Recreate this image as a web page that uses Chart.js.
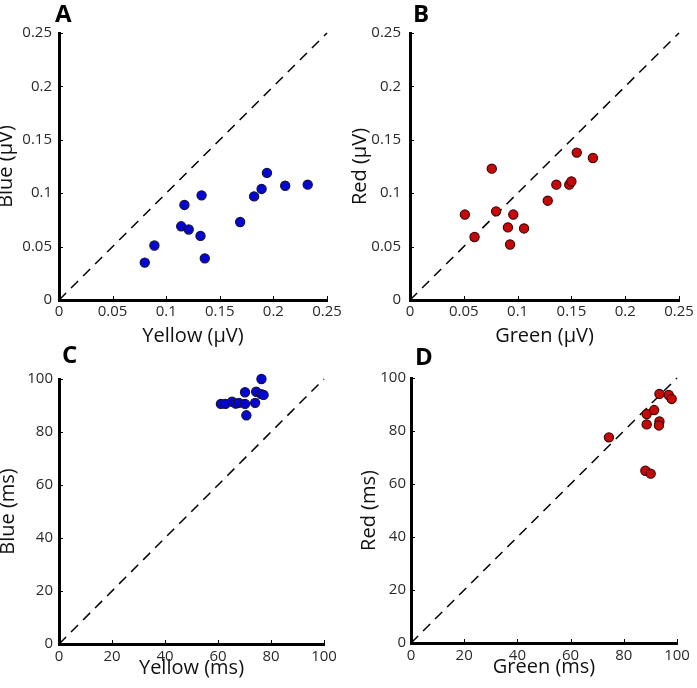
<!DOCTYPE html>
<html><head><meta charset="utf-8">
<script src="https://cdn.jsdelivr.net/npm/chart.js@4/dist/chart.umd.min.js"></script>
<style>
body{margin:0;background:#fff;}
#wrap{position:relative;width:697px;height:688px;overflow:hidden;}
canvas{position:absolute;left:0;top:0;}
</style>
</head><body>
<div id="wrap">
<canvas id="cA" width="697" height="688"></canvas>
<canvas id="cB" width="697" height="688"></canvas>
<canvas id="cC" width="697" height="688"></canvas>
<canvas id="cD" width="697" height="688"></canvas>
</div>
<script>
// ---- data ----
const ampTicks = [0, 0.05, 0.1, 0.15, 0.2, 0.25];
const latTicks = [0, 20, 40, 60, 80, 100];
const diagAmp = [0, 0.25];
const diagLat = [0, 100];

const yellowAmp = [0.080,0.089,0.117,0.114,0.121,0.133,0.132,0.136,0.169,0.182,0.189,0.194,0.211,0.232];
const blueAmp   = [0.035,0.051,0.089,0.069,0.066,0.098,0.060,0.039,0.073,0.097,0.104,0.119,0.107,0.108];

const greenAmp = [0.051,0.060,0.076,0.080,0.091,0.093,0.096,0.106,0.128,0.136,0.148,0.150,0.155,0.170];
const redAmp   = [0.080,0.059,0.123,0.083,0.068,0.052,0.080,0.067,0.093,0.108,0.108,0.111,0.138,0.133];

const yellowLat = [61.1,62.8,65.3,66.7,67.9,70.2,70.2,70.7,74.0,74.4,76.4,76.3,77.2];
const blueLat   = [90.6,90.6,91.4,90.7,91.0,90.6,95.0,86.3,91.0,95.2,100,94.3,94.0];

const greenLat = [74.4,88.6,88.6,88.1,90.1,91.4,93.4,93.4,93.2,96.9,98.0];
const redLat   = [77.6,86.4,82.5,65.0,63.9,87.9,94.0,83.6,82.1,93.6,92.1];

const FONT = '"Open Sans", "Noto Sans", sans-serif';
const BLUE = {fill:'#0505d6', edge:'#14143c'};
const RED  = {fill:'#c80808', edge:'#3c0808'};

const innerTicks = {
  id:'innerTicks',
  afterDatasetsDraw(chart){
    const ctx = chart.ctx, ca = chart.chartArea;
    const xs = chart.scales.x, ys = chart.scales.y;
    ctx.save();
    ctx.strokeStyle = '#000'; ctx.lineWidth = 1;
    xs.ticks.forEach(t=>{ if(t.value===xs.min) return;
      const px = Math.round(xs.getPixelForValue(t.value))+0.5;
      ctx.beginPath(); ctx.moveTo(px, ca.bottom-1); ctx.lineTo(px, ca.bottom-4); ctx.stroke(); });
    ys.ticks.forEach(t=>{ if(t.value===ys.min) return;
      const py = Math.round(ys.getPixelForValue(t.value))+0.5;
      ctx.beginPath(); ctx.moveTo(ca.left+1, py); ctx.lineTo(ca.left+4, py); ctx.stroke(); });
    ctx.restore();
  }
};
const panelLetter = {
  id:'panelLetter',
  afterDraw(chart, args, opts){
    const ctx = chart.ctx;
    ctx.save();
    ctx.font = 'bold 24px ' + FONT;
    ctx.fillStyle = '#000';
    ctx.textBaseline = 'alphabetic';
    ctx.textAlign = 'left';
    ctx.fillText(opts.text, opts.x, opts.y);
    ctx.restore();
  }
};

function makePanel(id, p){
  const padL = Math.max(0, p.yTitleCX - 12);
  const yTitlePad = p.yTitleCX - 12 - padL;
  const xH = p.xTitleCY + 12 - p.box.bottom;
  const padB = 688 - p.box.bottom - xH;
  new Chart(document.getElementById(id), {
    type:'scatter',
    data:{datasets:[
      {data: p.xs.map((x,i)=>({x:x, y:p.ys[i]})),
       backgroundColor:p.col.fill, borderColor:p.col.edge, borderWidth:1.2,
       pointRadius:4.6, clip:false, order:1},
      {data: p.diag.map(v=>({x:v, y:v})), showLine:true, borderColor:'#000',
       borderWidth:1.5, borderDash:[10,7], pointRadius:0, order:2, clip:false}
    ]},
    options:{
      responsive:false, animation:false, devicePixelRatio:1,
      layout:{padding:{left:padL, top:p.box.top, right:697-p.box.right, bottom:padB}},
      plugins:{legend:{display:false}, tooltip:{enabled:false},
        panelLetter:{text:p.letter, x:p.letterX, y:p.letterY}},
      scales:{
        x:{type:'linear', min:p.ticks[0], max:p.ticks[p.ticks.length-1],
          grid:{display:false, drawTicks:false},
          border:{display:true, width:3, color:'#000'},
          afterBuildTicks:(s)=>{ s.ticks = p.ticks.map(v=>({value:v})); },
          afterFit:(s)=>{ s.height = xH; },
          ticks:{padding:p.xTickPad, color:'#2a2a2a', font:{family:FONT, size:15}, maxRotation:0,
            callback:(v)=>String(v)},
          title:{display:true, text:p.xTitle, color:'#111', font:{family:FONT, size:20}, padding:0}
        },
        y:{type:'linear', min:p.ticks[0], max:p.ticks[p.ticks.length-1],
          grid:{display:false, drawTicks:false},
          border:{display:true, width:3, color:'#000'},
          afterBuildTicks:(s)=>{ s.ticks = p.ticks.map(v=>({value:v})); },
          afterFit:(s)=>{ s.width = p.box.left - padL; },
          ticks:{padding:p.yTickPad, color:'#2a2a2a', font:{family:FONT, size:15},
            callback:(v)=>String(v)},
          title:{display:true, text:p.yTitle, color:'#111', font:{family:FONT, size:20},
            padding:{top:yTitlePad, bottom:0}}
        }
      }
    },
    plugins:[innerTicks, panelLetter]
  });
}

makePanel('cA', {box:{left:59, top:33, right:327, bottom:300}, xs:yellowAmp, ys:blueAmp,
  ticks:ampTicks, diag:diagAmp, col:BLUE, xTitle:'Yellow (μV)', yTitle:'Blue (μV)',
  yTitleCX:6, xTitleCY:336, xTickPad:3, yTickPad:7, letter:'A', letterX:55, letterY:22});
makePanel('cB', {box:{left:410, top:33, right:679, bottom:300}, xs:greenAmp, ys:redAmp,
  ticks:ampTicks, diag:diagAmp, col:RED, xTitle:'Green (μV)', yTitle:'Red (μV)',
  yTitleCX:360, xTitleCY:336, xTickPad:3, yTickPad:9, letter:'B', letterX:413, letterY:22});
makePanel('cC', {box:{left:59, top:379, right:324, bottom:644}, xs:yellowLat, ys:blueLat,
  ticks:latTicks, diag:diagLat, col:BLUE, xTitle:'Yellow (ms)', yTitle:'Blue (ms)',
  yTitleCX:8, xTitleCY:668, xTickPad:4, yTickPad:6, letter:'C', letterX:62, letterY:363});
makePanel('cD', {box:{left:411, top:378, right:677, bottom:643}, xs:greenLat, ys:redLat,
  ticks:latTicks, diag:diagLat, col:RED, xTitle:'Green (ms)', yTitle:'Red (ms)',
  yTitleCX:369, xTitleCY:667, xTickPad:4, yTickPad:5, letter:'D', letterX:415, letterY:365});
</script>
</body></html>
